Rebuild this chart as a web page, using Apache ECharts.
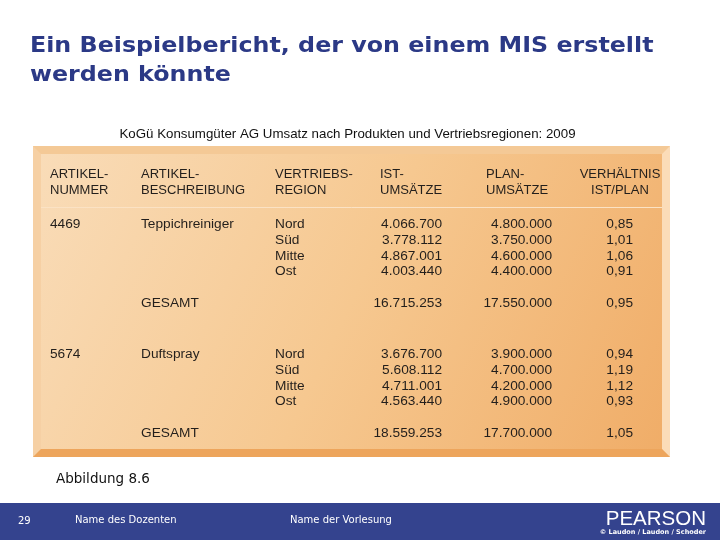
<!DOCTYPE html>
<html>
<head>
<meta charset="utf-8">
<title>Ein Beispielbericht</title>
<script src="https://cdn.jsdelivr.net/npm/echarts@6/dist/echarts.min.js"></script>
<style>
  html, body { margin: 0; padding: 0; background: #fff; }
  #chart { width: 720px; height: 540px; }
</style>
</head>
<body>
<div id="chart"></div>
<script>
// report data
const headers = [
  ['ARTIKEL-', 'NUMMER'],
  ['ARTIKEL-', 'BESCHREIBUNG'],
  ['VERTRIEBS-', 'REGION'],
  ['IST-', 'UMSÄTZE'],
  ['PLAN-', 'UMSÄTZE'],
  ['VERHÄLTNIS', 'IST/PLAN']
]
const articleNumbers = ['4469', '5674']
const articleNames = ['Teppichreiniger', 'Duftspray']
const regions = ['Nord', 'Süd', 'Mitte', 'Ost']
const istSales = [
  [4066700, 3778112, 4867001, 4003440],
  [3676700, 5608112, 4711001, 4563440]
]
const planSales = [
  [4800000, 3750000, 4600000, 4400000],
  [3900000, 4700000, 4200000, 4900000]
]
const ratios = [
  [0.85, 1.01, 1.06, 0.91],
  [0.94, 1.19, 1.12, 0.93]
]
const totalIst = [16715253, 18559253]
const totalPlan = [17550000, 17700000]
const totalRatio = [0.95, 1.05]

// layout (pixel space of the hidden axes)
const colX = [50, 141, 275, 442, 552, 633]
const colAlign = ['left', 'left', 'left', 'right', 'right', 'right']
const headX = [50, 141, 275, 380, 486, 620]
const headAlign = ['left', 'left', 'left', 'left', 'left', 'center']
const headY = [174, 190]
const blockTop = [224.5, 354.5]
const rowStep = 15.7
const totalOffset = 78.3

function fmtInt(v) {
  return String(v).replace(/\B(?=(\d{3})+(?!\d))/g, '.')
}
function fmtRatio(v) {
  return v.toFixed(2).replace('.', ',')
}

// build cells
const cells = []
headers.forEach((h, c) => {
  h.forEach((t, l) => cells.push({ x: headX[c], y: headY[l], text: t, align: headAlign[c], head: true }))
})
articleNumbers.forEach((nr, b) => {
  const top = blockTop[b]
  cells.push({ x: colX[0], y: top, text: nr, align: colAlign[0] })
  cells.push({ x: colX[1], y: top, text: articleNames[b], align: colAlign[1] })
  regions.forEach((r, i) => {
    const y = top + i * rowStep
    cells.push({ x: colX[2], y: y, text: r, align: colAlign[2] })
    cells.push({ x: colX[3], y: y, text: fmtInt(istSales[b][i]), align: colAlign[3] })
    cells.push({ x: colX[4], y: y, text: fmtInt(planSales[b][i]), align: colAlign[4] })
    cells.push({ x: colX[5], y: y, text: fmtRatio(ratios[b][i]), align: colAlign[5] })
  })
  const ty = top + totalOffset
  cells.push({ x: colX[1], y: ty, text: 'GESAMT', align: colAlign[1] })
  cells.push({ x: colX[3], y: ty, text: fmtInt(totalIst[b]), align: colAlign[3] })
  cells.push({ x: colX[4], y: ty, text: fmtInt(totalPlan[b]), align: colAlign[4] })
  cells.push({ x: colX[5], y: ty, text: fmtRatio(totalRatio[b]), align: colAlign[5] })
})

const chart = echarts.init(document.getElementById('chart'), null, { renderer: 'canvas' })

const option = {
  animation: false,
  backgroundColor: '#ffffff',
  grid: { left: 0, right: 0, top: 0, bottom: 0 },
  xAxis: { type: 'value', min: 0, max: 720, show: false },
  yAxis: { type: 'value', min: 0, max: 540, inverse: true, show: false },
  graphic: [
    // title
    {
      type: 'text', x: 30, y: 32, scaleX: 1.08, z: 10,
      style: {
        text: 'Ein Beispielbericht, der von einem MIS erstellt\nwerden könnte',
        font: 'bold 22px "DejaVu Sans"', fill: '#2b3986', lineHeight: 29
      }
    },
    {
      type: 'text', x: 347.5, y: 134, z: 10,
      style: {
        text: 'KoGü Konsumgüter AG Umsatz nach Produkten und Vertriebsregionen: 2009',
        font: '13.3px "Liberation Sans"', fill: '#111', align: 'center', verticalAlign: 'middle'
      }
    },
    // frame with bevel
    {
      type: 'rect', z: 1, shape: { x: 33, y: 146, width: 637, height: 311 },
      style: { fill: '#f4c894' }
    },
    {
      type: 'polygon', z: 2, shape: { points: [[33, 146], [670, 146], [662, 154], [41, 154]] },
      style: { fill: '#f4c996' }
    },
    {
      type: 'polygon', z: 2, shape: { points: [[33, 146], [41, 154], [41, 449], [33, 457]] },
      style: { fill: '#f6d0a4' }
    },
    {
      type: 'polygon', z: 2, shape: { points: [[670, 146], [670, 457], [662, 449], [662, 154]] },
      style: { fill: '#fbdcb8' }
    },
    {
      type: 'polygon', z: 2, shape: { points: [[33, 457], [41, 449], [662, 449], [670, 457]] },
      style: { fill: '#eda55c' }
    },
    {
      type: 'rect', z: 3, shape: { x: 41, y: 154, width: 621, height: 295 },
      style: {
        fill: new echarts.graphic.LinearGradient(0, 0, 1, 1, [
          { offset: 0, color: '#f9dcb8' },
          { offset: 0.5, color: '#f6c890' },
          { offset: 1, color: '#f0ad68' }
        ])
      }
    },
    {
      type: 'line', z: 4, shape: { x1: 41, y1: 207.5, x2: 662, y2: 207.5 },
      style: { stroke: '#fbe2c4', lineWidth: 1 }
    },
    // caption
    {
      type: 'text', x: 56, y: 479, z: 10,
      style: { text: 'Abbildung 8.6', font: '13.5px "DejaVu Sans"', fill: '#111', verticalAlign: 'middle' }
    },
    // footer
    {
      type: 'rect', z: 5, shape: { x: 0, y: 503, width: 720, height: 37 },
      style: { fill: '#34438e' }
    },
    {
      type: 'text', x: 18, y: 521, z: 10,
      style: { text: '29', font: '10px "DejaVu Sans"', fill: '#fff', verticalAlign: 'middle' }
    },
    {
      type: 'text', x: 75, y: 520, z: 10,
      style: { text: 'Name des Dozenten', font: '10px "DejaVu Sans"', fill: '#fff', verticalAlign: 'middle' }
    },
    {
      type: 'text', x: 290, y: 520, z: 10,
      style: { text: 'Name der Vorlesung', font: '10px "DejaVu Sans"', fill: '#fff', verticalAlign: 'middle' }
    },
    {
      type: 'text', x: 706, y: 519, z: 10,
      style: { text: 'PEARSON', font: '20.5px "Liberation Sans"', fill: '#fff', align: 'right', verticalAlign: 'middle' }
    },
    {
      type: 'text', x: 706, y: 532.5, z: 10,
      style: { text: '© Laudon / Laudon / Schoder', font: 'bold 6.5px "DejaVu Sans"', fill: '#fff', align: 'right', verticalAlign: 'middle' }
    }
  ],
  series: [
    {
      type: 'custom',
      coordinateSystem: 'cartesian2d',
      z: 20,
      data: cells.map(c => [c.x, c.y]),
      renderItem: function (params, api) {
        const cell = cells[params.dataIndex]
        const pt = api.coord([api.value(0), api.value(1)])
        return {
          type: 'text',
          x: pt[0],
          y: pt[1],
          style: {
            text: cell.text,
            font: (cell.head ? '13px' : '13.7px') + ' "Liberation Sans"',
            fill: '#231f1c',
            align: cell.align,
            verticalAlign: 'middle'
          }
        }
      }
    }
  ]
}

chart.setOption(option)
window.addEventListener('resize', () => chart.resize())
</script>
</body>
</html>
